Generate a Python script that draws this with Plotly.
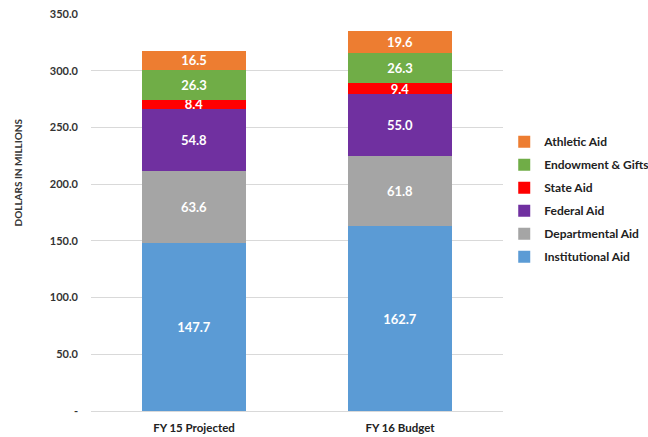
import plotly.graph_objects as go

categories = ["FY 15 Projected", "FY 16 Budget"]
institutional = [147.7, 162.7]
departmental = [63.6, 61.8]
federal = [54.8, 55.0]
state = [8.4, 9.4]
endowment = [26.3, 26.3]
athletic = [16.5, 19.6]

series = [
    ("Institutional Aid", institutional, "#5B9BD5"),
    ("Departmental Aid", departmental, "#A5A5A5"),
    ("Federal Aid", federal, "#7030A0"),
    ("State Aid", state, "#FF0000"),
    ("Endowment & Gifts", endowment, "#70AD47"),
    ("Athletic Aid", athletic, "#ED7D31"),
]

tick_vals = [0, 50, 100, 150, 200, 250, 300, 350]
tick_text = ["-", "50.0", "100.0", "150.0", "200.0", "250.0", "300.0", "350.0"]

FONT = "Lato"

fig = go.Figure()
n = len(series)
for i, (name, vals, color) in enumerate(series):
    fig.add_trace(go.Bar(
        x=categories, y=vals, name=name, legendgroup=name,
        legendrank=n - i,
        marker=dict(color=color, line=dict(width=0)),
        texttemplate="<b>%{y:.1f}</b>", textposition="inside",
        insidetextanchor="middle",
        textfont=dict(color="white", size=13, family=FONT),
    ))

fig.update_layout(
    barmode="stack",
    bargap=0.495,
    width=648, height=437,
    margin=dict(l=91, r=145, t=14, b=26, autoexpand=False),
    plot_bgcolor="white", paper_bgcolor="white",
    font=dict(family=FONT, color="#333333"),
    uniformtext=dict(minsize=13, mode="show"),
    showlegend=True,
    legend=dict(
        traceorder="grouped", tracegroupgap=4,
        x=1.003, y=0.715, xanchor="left", yanchor="top",
        font=dict(size=12, family=FONT, color="#222222", weight="bold"),
        itemwidth=30,
    ),
    xaxis=dict(
        showline=True, linecolor="#D9D9D9", linewidth=1,
        tickfont=dict(size=11.5, family=FONT, color="#222222", weight="bold"),
        ticks="", ticklabelstandoff=6,
    ),
    yaxis=dict(
        range=[0, 350], tickvals=tick_vals, ticktext=tick_text,
        showgrid=True, gridcolor="#D9D9D9", gridwidth=1,
        zeroline=False,
        tickfont=dict(size=11, family=FONT, color="#333333", weight="bold"),
        ticks="", ticklabelstandoff=12,
    ),
    annotations=[dict(
        text="<b>DOLLARS IN MILLIONS</b>", textangle=-90,
        xref="paper", yref="paper", x=-0.178, y=0.6,
        xanchor="center", yanchor="middle", showarrow=False,
        font=dict(size=10, family=FONT, color="#333333"),
    )],
)

fig.write_html(
    "out.html",
    config={"displayModeBar": False},
    post_script="document.body.style.margin='0';document.body.style.padding='0';",
)
